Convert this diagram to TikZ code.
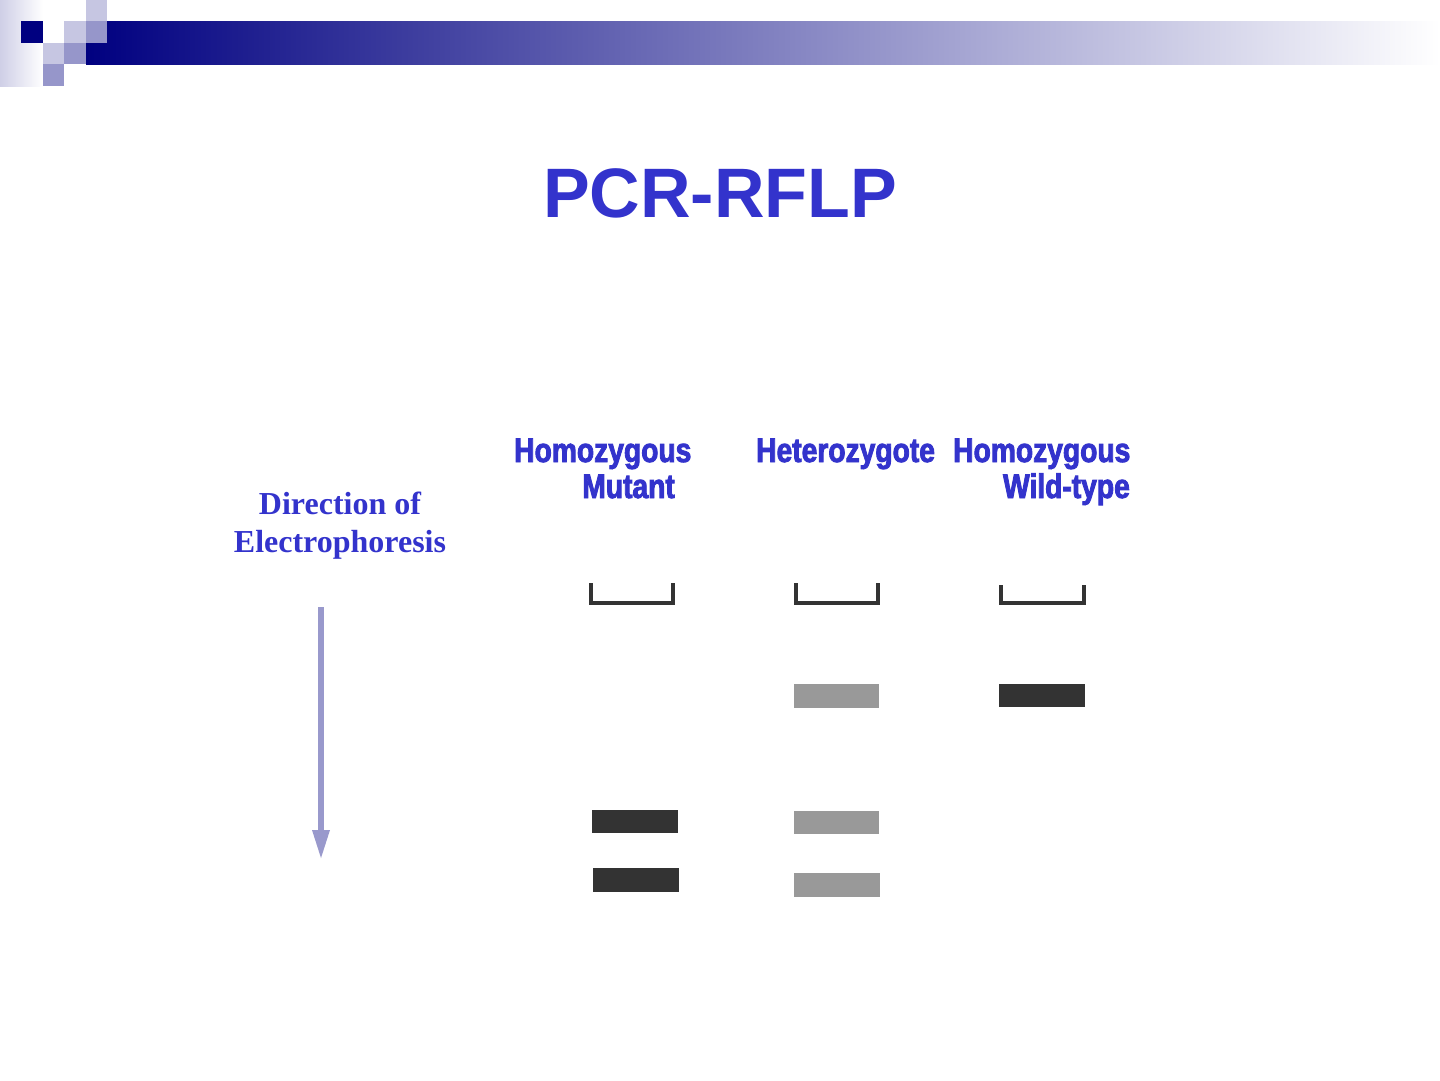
\documentclass[tikz,border=0pt]{standalone}
\usepackage{fontspec}
\setmainfont{Liberation Serif}
\newfontfamily\titlefont{Liberation Sans}
\newfontfamily\labfont[FakeStretch=0.83,FakeBold=2.5]{Liberation Sans Bold}
\definecolor{navy}{RGB}{0,0,128}
\definecolor{lightsq}{RGB}{198,198,226}
\definecolor{midsq}{RGB}{150,150,202}
\definecolor{txtblue}{RGB}{51,51,204}
\definecolor{gel}{RGB}{51,51,51}
\definecolor{gelfaint}{RGB}{153,153,153}
\definecolor{arrowlav}{RGB}{153,153,204}
\tikzset{
  lanelabel/.style={text=txtblue,font=\labfont\fontsize{34}{38}\selectfont,inner sep=0pt},
  dirlabel/.style={text=txtblue,font=\bfseries\fontsize{32}{38}\selectfont,inner sep=0pt},
  well/.style={draw=gel,line width=3.5pt,line join=miter},
  darkband/.style={fill=gel},
  faintband/.style={fill=gelfaint},
}
\begin{document}
\begin{tikzpicture}[x=1pt,y=-1pt]
\useasboundingbox (0,0) rectangle (1440,1080);
% header
\shade[left color=lightsq!85!white,right color=white] (0,0) rectangle (43,86);
\shade[left color=navy,right color=white] (86,21) rectangle (1440,64);
\fill[navy] (21,21) rectangle (43,43);
\fill[lightsq] (43,43) rectangle (64,64);
\fill[midsq] (43,64) rectangle (64,86);
\fill[lightsq] (64,21) rectangle (86,43);
\fill[midsq] (64,43) rectangle (86,64);
\fill[lightsq] (86,0) rectangle (107,21);
\fill[midsq] (86,21) rectangle (107,43);
% title
\node[anchor=base,text=txtblue,font=\titlefont\bfseries\fontsize{70}{80}\selectfont,inner sep=0pt] (title) at (720,217) {PCR-RFLP};
% lane labels
\node[lanelabel,anchor=base west] (hm1) at (514,462) {Homozygous};
\node[lanelabel,anchor=base east] (hm2) at (675,498) {Mutant};
\node[lanelabel,anchor=base west] (het) at (756,462) {Heterozygote};
\node[lanelabel,anchor=base west] (hw1) at (953,462) {Homozygous};
\node[lanelabel,anchor=base east] (hw2) at (1130,498) {Wild-type};
% direction label
\node[dirlabel,anchor=base] (dir1) at (340,514) {Direction of};
\node[dirlabel,anchor=base] (dir2) at (340,552) {Electrophoresis};
% wells
\draw[well] (591,583) -- (591,603) -- (673,603) -- (673,583);
\draw[well] (796,583) -- (796,603) -- (878,603) -- (878,583);
\draw[well] (1001,585) -- (1001,603) -- (1084,603) -- (1084,585);
% bands
\fill[darkband] (999,684) rectangle (1085,707);
\fill[faintband] (794,684) rectangle (879,708);
\fill[darkband] (592,810) rectangle (678,833);
\fill[faintband] (794,811) rectangle (879,834);
\fill[darkband] (593,868) rectangle (679,892);
\fill[faintband] (794,873) rectangle (880,897);
% arrow
\coordinate (astart) at (321,607);
\coordinate (aend) at (321,831);
\draw[arrowlav,line width=6pt] (astart) -- (aend);
\fill[arrowlav] (312,830) -- (330,830) -- (321,858) -- cycle;
\end{tikzpicture}
\end{document}
